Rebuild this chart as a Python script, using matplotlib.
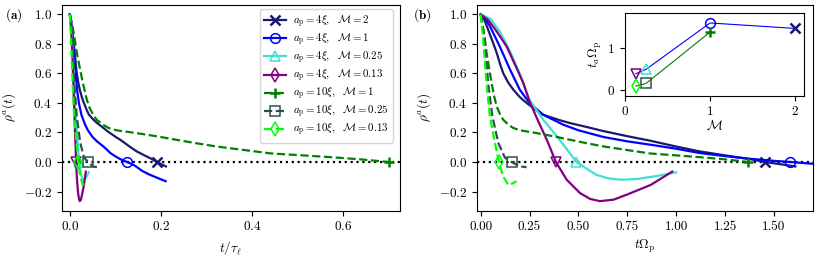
import numpy as np
import matplotlib
matplotlib.use('Agg')
import matplotlib.pyplot as plt
from matplotlib.lines import Line2D

# LaTeX-like look
plt.rcParams['font.family'] = 'serif'
plt.rcParams['font.serif'] = ['cmr10']
plt.rcParams['mathtext.fontset'] = 'cm'
plt.rcParams['axes.formatter.use_mathtext'] = True
plt.rcParams['font.size'] = 9.5

# curves, time in units of 1/Omega_p
t_m2 = [0, 0.02, 0.04, 0.06, 0.082, 0.1, 0.116, 0.14, 0.167, 0.2, 0.235, 0.28, 0.32, 0.4,
        0.456, 0.55, 0.626, 0.75, 0.865, 1.0, 1.12, 1.25, 1.376, 1.456, 1.55, 1.61]
r_m2 = [1.0, 0.96, 0.89, 0.82, 0.74, 0.66, 0.6, 0.54, 0.49, 0.44, 0.40, 0.355, 0.32, 0.285,
        0.264, 0.235, 0.21, 0.175, 0.145, 0.105, 0.072, 0.045, 0.02, 0.0, -0.018, -0.03]

t_m1 = [0, 0.02, 0.0475, 0.0986, 0.15, 0.2, 0.25, 0.32, 0.422, 0.5, 0.626, 0.75, 0.865, 1.0,
        1.12, 1.25, 1.376, 1.5, 1.585, 1.7, 1.8, 2.0, 2.2, 2.45, 2.65]
r_m1 = [1.0, 0.98, 0.92, 0.78, 0.627, 0.49, 0.40, 0.32, 0.253, 0.215, 0.17, 0.14, 0.118, 0.09,
        0.061, 0.04, 0.022, 0.008, 0.0, -0.012, -0.025, -0.06, -0.085, -0.11, -0.13]

t_m025 = [0, 0.05, 0.1, 0.15, 0.2, 0.25, 0.32, 0.39, 0.456, 0.49, 0.59, 0.65, 0.72, 0.8, 0.9, 1.0]
r_m025 = [1.0, 0.97, 0.88, 0.75, 0.6, 0.42, 0.287, 0.174, 0.06, 0.0, -0.086, -0.11, -0.12,
          -0.115, -0.095, -0.07]

t_m013 = [0, 0.04, 0.082, 0.134, 0.18, 0.218, 0.25, 0.295, 0.338, 0.385, 0.44, 0.508, 0.56,
          0.61, 0.68, 0.75, 0.87, 0.98]
r_m013 = [1.0, 0.96, 0.885, 0.78, 0.647, 0.535, 0.41, 0.275, 0.152, 0.0, -0.12, -0.21, -0.25,
          -0.265, -0.255, -0.22, -0.155, -0.065]

t_big_m1 = [0, 0.01, 0.02, 0.03, 0.045, 0.056, 0.07, 0.082, 0.1, 0.115, 0.14, 0.166, 0.2, 0.286,
            0.37, 0.456, 0.54, 0.626, 0.78, 0.865, 1.0, 1.12, 1.25, 1.37]
r_big_m1 = [1.0, 0.93, 0.84, 0.74, 0.62, 0.535, 0.44, 0.376, 0.32, 0.287, 0.255, 0.231, 0.215,
            0.196, 0.175, 0.151, 0.128, 0.106, 0.075, 0.058, 0.045, 0.033, 0.018, 0.0]

t_big_m025 = [0, 0.021, 0.038, 0.06, 0.09, 0.124, 0.158, 0.2, 0.235]
r_big_m025 = [1.0, 0.83, 0.535, 0.31, 0.13, 0.03, 0.0, -0.03, -0.035]

t_big_m013 = [0, 0.013, 0.03, 0.047, 0.073, 0.093, 0.115, 0.141, 0.163, 0.184]
r_big_m013 = [1.0, 0.83, 0.535, 0.31, 0.13, 0.0, -0.097, -0.155, -0.145, -0.13]

# tau_l * Omega_p for each run (converts to panel (a) time)
tau_omega = [7.63, 12.6, 24.0, 28.0, 1.957, 3.95, 5.0]

# zero-crossing times t_a Omega_p and mass ratios (inset)
mass = [2, 1, 0.25, 0.13, 1, 0.25, 0.13]
t_a = [1.456, 1.585, 0.49, 0.385, 1.37, 0.158, 0.093]

labels = [r'$a_{\rm p} = 4\xi,\ \ \mathcal{M} = 2$',
          r'$a_{\rm p} = 4\xi,\ \ \mathcal{M} = 1$',
          r'$a_{\rm p} = 4\xi,\ \ \mathcal{M} = 0.25$',
          r'$a_{\rm p} = 4\xi,\ \ \mathcal{M} = 0.13$',
          r'$a_{\rm p} = 10\xi,\ \ \mathcal{M} = 1$',
          r'$a_{\rm p} = 10\xi,\ \ \mathcal{M} = 0.25$',
          r'$a_{\rm p} = 10\xi,\ \ \mathcal{M} = 0.13$']
colors = ['midnightblue', 'blue', 'turquoise', 'purple', 'green', 'darkslategray', 'lime']
markers = ['x', 'o', '^', 'v', '+', 's', 'd']
leg_markers = ['x', 'o', '^', 'd', '+', 's', 'd']
styles = ['-', '-', '-', '-', '--', '--', '--']

times = [t_m2, t_m1, t_m025, t_m013, t_big_m1, t_big_m025, t_big_m013]
rhos = [r_m2, r_m1, r_m025, r_m013, r_big_m1, r_big_m025, r_big_m013]

fig = plt.figure(figsize=(8.22, 2.57), dpi=100)
ax1 = fig.add_axes([0.075, 0.18, 0.4116, 0.802])
ax2 = fig.add_axes([0.58, 0.18, 0.409, 0.802])


def marker_kw(m, c):
    if m in ('x', '+'):
        return dict(marker=m, color=c, markersize=7, markeredgewidth=1.8)
    return dict(marker=m, markerfacecolor='none', markeredgecolor=c,
                markersize=7, markeredgewidth=1.1)


for i in range(7):
    t = np.array(times[i])
    for ax, scale in ((ax1, tau_omega[i]), (ax2, 1.0)):
        ax.plot(t / scale, rhos[i], color=colors[i], ls=styles[i], lw=1.6)
        ax.plot(t_a[i] / scale, 0, ls='none', **marker_kw(markers[i], colors[i]))

for ax in (ax1, ax2):
    ax.axhline(0, color='black', ls=':', lw=1.6, zorder=1)
    ax.set_ylim(-0.33, 1.066)
    ax.set_ylabel(r'$\rho^a(t)$')
    ax.set_yticks([-0.2, 0.0, 0.2, 0.4, 0.6, 0.8, 1.0])

ax1.set_xlim(-0.018, 0.725)
ax1.set_xticks([0.0, 0.2, 0.4, 0.6])
ax1.set_xlabel(r'$t/\tau_\ell$')
ax2.set_xlim(-0.02, 1.7)
ax2.set_xticks([0.0, 0.25, 0.5, 0.75, 1.0, 1.25, 1.5])
ax2.set_xticklabels(['0.00', '0.25', '0.50', '0.75', '1.00', '1.25', '1.50'])
ax2.set_xlabel(r'$t\Omega_{\rm p}$')

handles = [Line2D([], [], ls=styles[i], lw=1.6, **marker_kw(leg_markers[i], colors[i]))
           for i in range(7)]
for h, c in zip(handles, colors):
    h.set_color(c)
ax1.legend(handles, labels, loc='upper right', bbox_to_anchor=(0.978, 0.978),
           borderaxespad=0, fontsize=7.8, handlelength=2.0,
           labelspacing=0.15, borderpad=0.4, handletextpad=0.6)

fig.text(0.006, 0.943, r'$\mathbf{(a)}$', fontsize=9.5, va='center')
fig.text(0.503, 0.943, r'$\mathbf{(b)}$', fontsize=9.5, va='center')

# inset: t_a vs mass ratio
ins = fig.add_axes([0.760, 0.628, 0.218, 0.323])
ins.plot([mass[3], mass[2], mass[1], mass[0]], [t_a[3], t_a[2], t_a[1], t_a[0]],
         color='blue', lw=0.8)
ins.plot([mass[6], mass[5], mass[4]], [t_a[6], t_a[5], t_a[4]], color='green', lw=0.8)
for i in range(7):
    ins.plot(mass[i], t_a[i], ls='none', **marker_kw(markers[i], colors[i]))
ins.set_xlim(0, 2.1)
ins.set_ylim(-0.13, 1.83)
ins.set_xticks([0, 1, 2])
ins.set_yticks([0, 1])
ins.set_xlabel(r'$\mathcal{M}$', labelpad=1)
ins.set_ylabel(r'$t_a\Omega_{\rm p}$', labelpad=2)

fig.savefig('out.png', dpi=100)
